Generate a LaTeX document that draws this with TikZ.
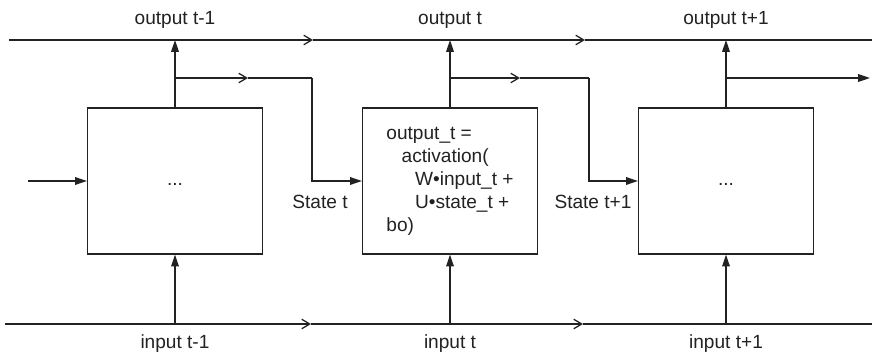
\documentclass[tikz,border=0pt]{standalone}
\usepackage{fontspec}
\setmainfont{Liberation Sans}
\usepackage{xcolor}
\usetikzlibrary{arrows.meta,positioning}
\definecolor{rnnInk}{HTML}{222222}

\begin{document}
\begin{tikzpicture}[x=0.55pt, y=-0.55pt, font=\fontsize{10.5}{12.65}\selectfont,
  color=rnnInk, line width=0.7pt,
  cell/.style={draw, minimum width=96.25pt, minimum height=80.3pt, inner sep=0pt},
  tip/.style={-{Triangle[length=6.5pt,width=4.2pt]}},
  barb/.style={-{Straight Barb[length=4.4pt,width=5.2pt]}}]
\useasboundingbox (0,0) rectangle (872,356);
% ---- rails: outputs on top, inputs below ----
\coordinate (topL) at (9,40);
\coordinate (topA) at (313,40);
\coordinate (topB) at (585,40);
\coordinate (topR) at (872,40);
\coordinate (botL) at (5,324);
\coordinate (botA) at (311,324);
\coordinate (botB) at (583,324);
\coordinate (botR) at (872,324);
\draw[barb] (topL) -- (topA);
\draw[barb] (topA) -- (topB);
\draw (topB) -- (topR);
\draw[barb] (botL) -- (botA);
\draw[barb] (botA) -- (botB);
\draw (botB) -- (botR);

% ---- the three cells ----
\node[cell] (cell1) at (175,181) {\vphantom{Ag}...};
\node[cell, align=left] (cell2) at (450,181)
  {output\_t =\\\hspace{0.8em}activation(\\\hspace{1.5em}W•input\_t +\\\hspace{1.5em}U•state\_t +\\bo)};
\node[cell] (cell3) at (726,181) {\vphantom{Ag}...};

% ---- labels ----
\node (out1) at (175,20) {output t-1};
\node (out2) at (450,20) {output t};
\node (out3) at (726,20) {output t+1};
\node (in1) at (175,344) {input t-1};
\node (in2) at (450,344) {input t};
\node (in3) at (726,344) {input t+1};
\node (state2) at (320,202) {State t};
\node (state3) at (593,202) {State t+1};

% ---- cell outputs and inputs ----
\foreach \i in {1,2,3}{
  \draw[tip] (cell\i.north) -- (cell\i.north |- topL);
  \draw[tip] (cell\i.south |- botL) -- (cell\i.south);
}

% ---- state passed on to the next cell ----
\coordinate (fork1) at (175,78);
\coordinate (fork2) at (450,78);
\coordinate (fork3) at (726,78);
\coordinate (mid1) at (248,78);
\coordinate (mid2) at (520,78);
\coordinate (drop1) at (312,78);
\coordinate (drop2) at (589,78);
\coordinate (outR) at (870,78);
\coordinate (inL) at (28,181);
\draw[tip] (inL) -- (cell1.west);
\draw[barb] (fork1) -- (mid1);
\draw (mid1) -- (drop1);
\draw[tip] (drop1) |- (cell2.west);
\draw[barb] (fork2) -- (mid2);
\draw (mid2) -- (drop2);
\draw[tip] (drop2) |- (cell3.west);
\draw[tip] (fork3) -- (outR);
\end{tikzpicture}
\end{document}
